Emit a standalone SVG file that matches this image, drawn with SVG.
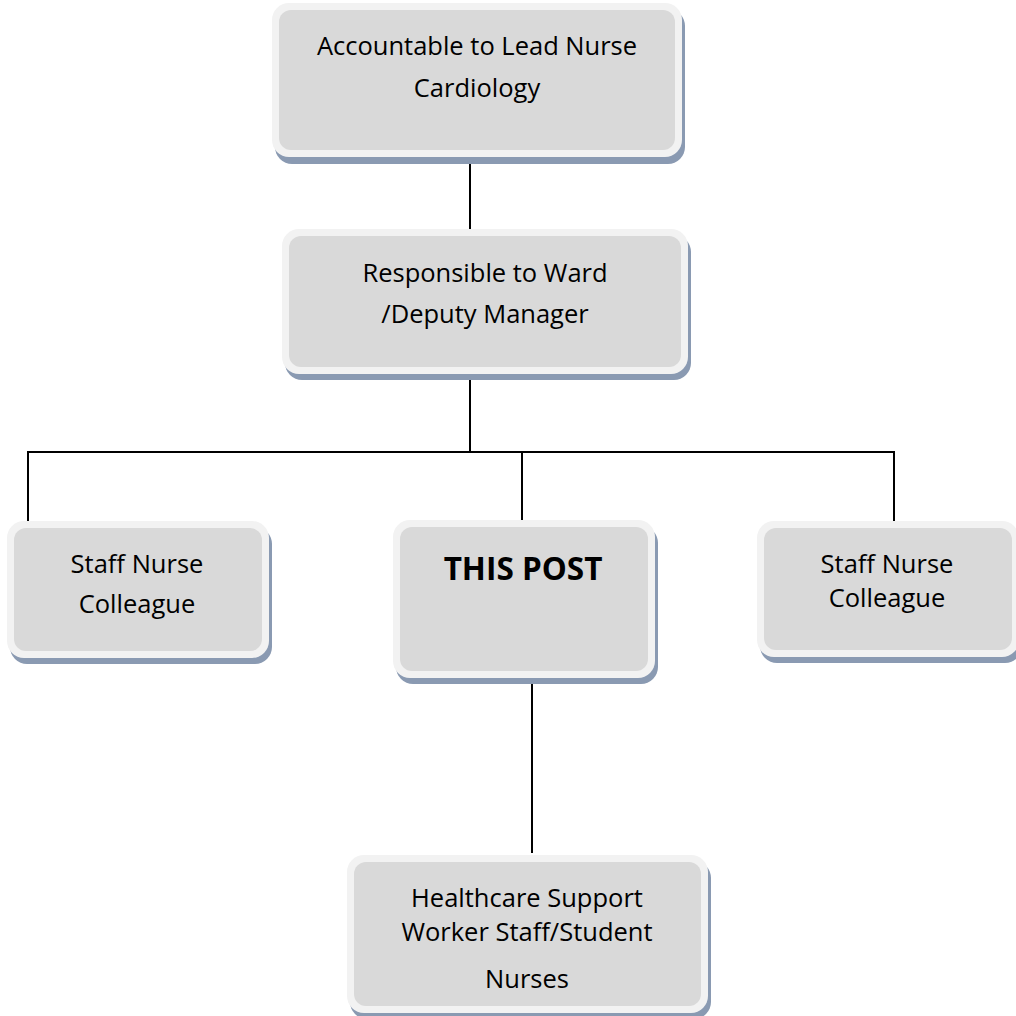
<svg xmlns="http://www.w3.org/2000/svg" width="1016" height="1016" viewBox="0 0 1016 1016">
<style>
.sh{fill:#8a9ab2}
.out{fill:#f2f2f2}
.in{fill:#d9d9d9}
.t{font-family:"Open Sans","Liberation Sans",sans-serif;font-size:25.5px;fill:#000;text-anchor:middle}
.b{font-weight:bold;font-size:31.5px}
.c{stroke:#000;stroke-width:2;fill:none}
</style>
<rect width="1016" height="1016" fill="#fff"/>
<g id="connectors">
<line class="c" x1="470" y1="156" x2="470" y2="232"/>
<line class="c" x1="470" y1="374" x2="470" y2="452"/>
<line class="c" x1="28" y1="452" x2="894" y2="452"/>
<line class="c" x1="28" y1="451" x2="28" y2="522"/>
<line class="c" x1="522" y1="451" x2="522" y2="522"/>
<line class="c" x1="894" y1="451" x2="894" y2="522"/>
<line class="c" x1="532" y1="678" x2="532" y2="853"/>
</g>
<g id="n1">
<rect class="sh" x="275" y="9" width="410" height="155" rx="17"/>
<rect class="out" x="272" y="3" width="410" height="154" rx="17"/>
<rect class="in" x="279" y="10" width="396" height="140" rx="12"/>
<text class="t" x="477" y="55">Accountable to Lead Nurse</text>
<text class="t" x="477" y="97">Cardiology</text>
</g>
<g id="n2">
<rect class="sh" x="285" y="235" width="406" height="145" rx="17"/>
<rect class="out" x="282" y="229" width="406" height="145" rx="17"/>
<rect class="in" x="289" y="236" width="392" height="131" rx="12"/>
<text class="t" x="485" y="282">Responsible to Ward</text>
<text class="t" x="485" y="323">/Deputy Manager</text>
</g>
<g id="n3">
<rect class="sh" x="10" y="527" width="262" height="137" rx="17"/>
<rect class="out" x="7" y="521" width="262" height="137" rx="17"/>
<rect class="in" x="14" y="528" width="248" height="123" rx="12"/>
<text class="t" x="137" y="573">Staff Nurse</text>
<text class="t" x="137" y="613">Colleague</text>
</g>
<g id="n4">
<rect class="sh" x="396" y="526" width="262" height="158" rx="17"/>
<rect class="out" x="393" y="520" width="262" height="158" rx="17"/>
<rect class="in" x="400" y="527" width="248" height="144" rx="12"/>
<text class="t b" x="523" y="580">THIS POST</text>
</g>
<g id="n5">
<rect class="sh" x="760" y="527" width="262" height="136" rx="17"/>
<rect class="out" x="757" y="521" width="262" height="136" rx="17"/>
<rect class="in" x="764" y="528" width="248" height="122" rx="12"/>
<text class="t" x="887" y="573">Staff Nurse</text>
<text class="t" x="887" y="607">Colleague</text>
</g>
<g id="n6">
<rect class="sh" x="350" y="861" width="361" height="158" rx="17"/>
<rect class="out" x="347" y="855" width="361" height="158" rx="17"/>
<rect class="in" x="354" y="862" width="347" height="144" rx="12"/>
<text class="t" x="527" y="907">Healthcare Support</text>
<text class="t" x="527" y="941">Worker Staff/Student</text>
<text class="t" x="527" y="988">Nurses</text>
</g>
</svg>
